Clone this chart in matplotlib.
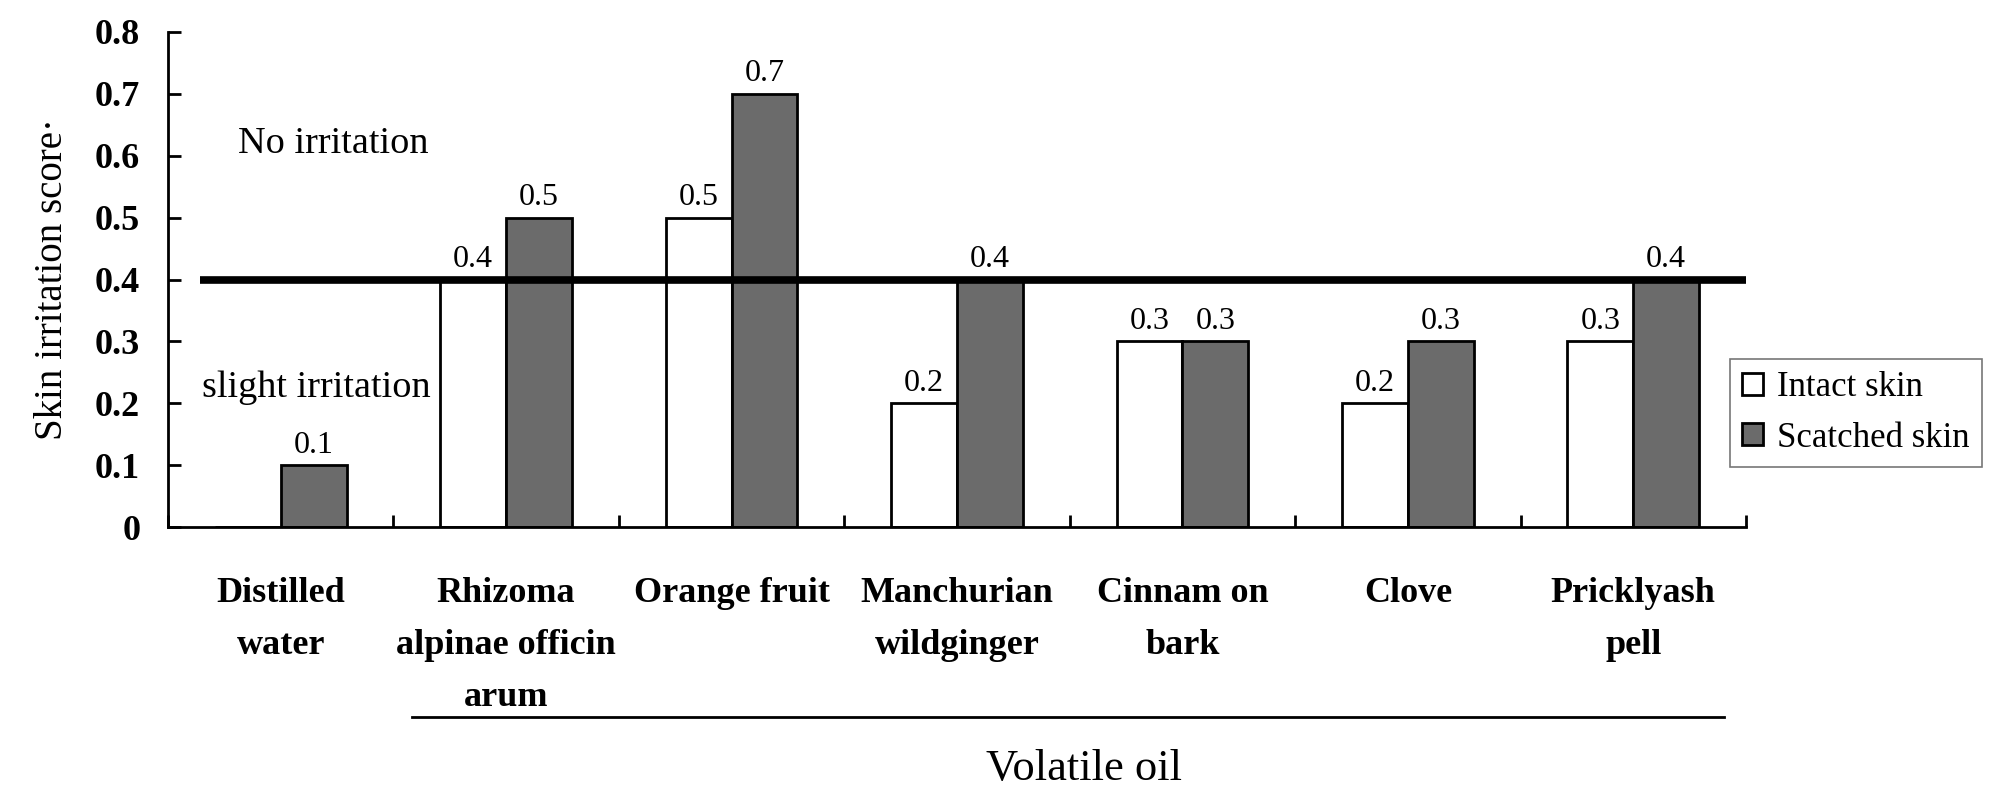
import matplotlib
matplotlib.use("Agg")
import matplotlib.pyplot as plt
from matplotlib.patches import Patch
from matplotlib.lines import Line2D
import numpy as np

categories = ["Distilled\nwater", "Rhizoma\nalpinae officin\narum", "Orange fruit",
              "Manchurian\nwildginger", "Cinnam on\nbark", "Clove", "Pricklyash\npell"]
intact = [0.0, 0.4, 0.5, 0.2, 0.3, 0.2, 0.3]
scatched = [0.1, 0.5, 0.7, 0.4, 0.3, 0.3, 0.4]
series_names = ["Intact skin", "Scatched skin"]
yticks = [0, 0.1, 0.2, 0.3, 0.4, 0.5, 0.6, 0.7, 0.8]
ytick_labels = ["0", "0.1", "0.2", "0.3", "0.4", "0.5", "0.6", "0.7", "0.8"]
threshold = 0.4

plt.rcParams['font.family'] = ['Liberation Serif', 'DejaVu Serif']

W, H = 2008, 794
fig = plt.figure(figsize=(W / 100, H / 100), dpi=100)
ax = fig.add_axes([168 / W, 1 - 527 / H, (1746 - 168) / W, (527 - 32) / H])

x = np.arange(len(categories))
bw = 0.292
b1 = ax.bar(x - bw / 2, intact, bw, color='white', edgecolor='black', linewidth=2, zorder=2)
b2 = ax.bar(x + bw / 2, scatched, bw, color='#6b6b6b', edgecolor='black', linewidth=2, zorder=2)

for rects, vals in ((b1, intact), (b2, scatched)):
    for r, v in zip(rects, vals):
        if v > 0:
            ax.annotate(f"{v:g}", (r.get_x() + r.get_width() / 2, v), xytext=(0, 4),
                        textcoords='offset points', ha='center', va='bottom', fontsize=23)

ax.hlines(threshold, -0.36, 6.5, color='black', linewidth=5.5, zorder=3)
ax.text(-0.19, 0.604, "No irritation", fontsize=27.5, ha='left', va='baseline')
ax.text(-0.35, 0.21, "slight irritation", fontsize=27.5, ha='left', va='baseline')

ax.set_xlim(-0.5, 6.5)
ax.set_ylim(0, 0.8)
ax.set_yticks(yticks)
ax.set_yticklabels(ytick_labels, fontsize=26, fontweight='bold')
ax.tick_params(axis='y', direction='in', length=9, width=2, pad=20)
ax.set_xticks(x)
ax.set_xticklabels(categories, fontsize=26, fontweight='bold', linespacing=1.75)
ax.tick_params(axis='x', which='major', length=0, pad=36)
ax.set_xticks(np.arange(-0.5, 6.6, 1.0), minor=True)
ax.tick_params(axis='x', which='minor', direction='in', length=9, width=2)

for s in ('top', 'right'):
    ax.spines[s].set_visible(False)
for s in ('left', 'bottom'):
    ax.spines[s].set_linewidth(2)

ax.set_ylabel("Skin irritation score·", fontsize=28, labelpad=17)

fig.add_artist(Line2D([412 / W, 1724 / W], [1 - 717 / H, 1 - 717 / H],
                      transform=fig.transFigure, color='black', linewidth=2))
fig.text(1084 / W, 1 - 780 / H, "Volatile oil", fontsize=32, ha='center', va='baseline')

handles = [Patch(facecolor='white', edgecolor='black', linewidth=2),
           Patch(facecolor='#6b6b6b', edgecolor='black', linewidth=2)]
leg = fig.legend(handles, series_names, loc='upper left',
                 bbox_to_anchor=(1730 / W, 1 - 359 / H), bbox_transform=fig.transFigure,
                 fontsize=25, frameon=True, fancybox=False, handlelength=0.6,
                 handleheight=0.6, handletextpad=0.4, labelspacing=0.5,
                 borderpad=0.35, borderaxespad=0)
leg.get_frame().set_edgecolor('#555555')
leg.get_frame().set_linewidth(1.2)

fig.savefig("out.png", dpi=100)
